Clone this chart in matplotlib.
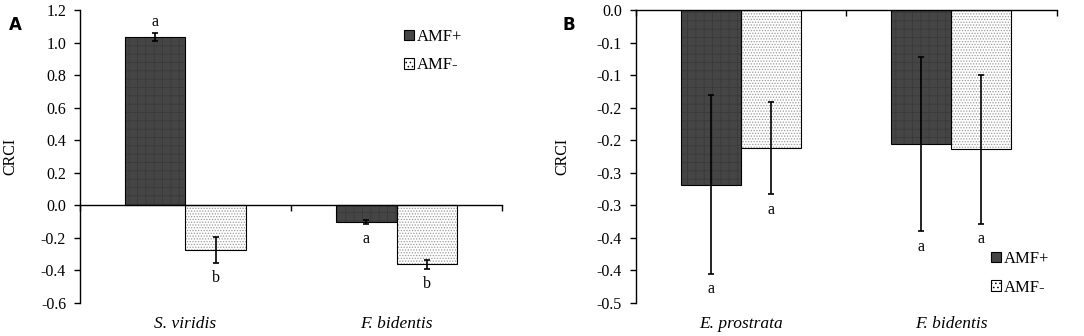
import numpy as np
import matplotlib
matplotlib.use("Agg")
import matplotlib.pyplot as plt
from matplotlib.patches import Patch
from matplotlib.transforms import blended_transform_factory

plt.rcParams['font.family'] = ['Liberation Serif', 'DejaVu Serif']
plt.rcParams['hatch.linewidth'] = 0.6

# --- data ---
groups = ["AMF+", "AMF-"]

cats_a = ["S. viridis", "F. bidentis"]
amf_plus_a = [1.035, -0.102]
amf_minus_a = [-0.274, -0.362]
err_plus_a = [0.025, 0.010]
err_minus_a = [0.078, 0.027]
letters_plus_a = ["a", "a"]
letters_minus_a = ["b", "b"]

cats_b = ["E. prostrata", "F. bidentis"]
amf_plus_b = [-0.268, -0.206]
amf_minus_b = [-0.212, -0.214]
err_plus_b = [0.137, 0.134]
err_minus_b = [0.071, 0.114]
letters_plus_b = ["a", "a"]
letters_minus_b = ["a", "a"]

yticks_a = [1.2, 1.0, 0.8, 0.6, 0.4, 0.2, 0.0, -0.2, -0.4, -0.6]
yticks_b = [0.0, -0.05, -0.1, -0.15, -0.2, -0.25, -0.3, -0.35, -0.4, -0.45]
yticklabels_b = ["0.0", "-0.1", "-0.1", "-0.2", "-0.2", "-0.3", "-0.3", "-0.4", "-0.4", "-0.5"]

DARK = "#454545"
DARK_HATCH = "#3a3a3a"
LIGHT = "#ffffff"
LIGHT_HATCH = "#9a9a9a"
W = 0.285


def draw_bars(ax, x, vals, errs, face, hcolor, hatch, letters):
    ax.bar(x, vals, W, color=face, edgecolor=hcolor, hatch=hatch, linewidth=0, zorder=2)
    ax.bar(x, vals, W, fill=False, edgecolor="black", linewidth=0.8, zorder=3)
    ax.errorbar(x, vals, yerr=errs, fmt="none", ecolor="black", elinewidth=1.2,
                capsize=2.3, capthick=1.2, zorder=4)
    for xi, v, e, lab in zip(x, vals, errs, letters):
        if v > 0:
            y, dy = v + e, 8
        else:
            y, dy = v - e, -11
        ax.annotate(lab, (xi, y), xytext=(0, dy), textcoords="offset points",
                    ha="center", va="center", fontsize=11.5)


def setup(ax, cats, yticks, ylabels, ylim):
    ax.set_xlim(-0.5, len(cats) - 0.5)
    ax.set_ylim(*ylim)
    for s in ["top", "right"]:
        ax.spines[s].set_visible(False)
    ax.spines["bottom"].set_position(("data", 0))
    ax.spines["bottom"].set_linewidth(1.0)
    ax.spines["left"].set_linewidth(1.0)
    ax.set_xticks(np.arange(-0.5, len(cats), 1.0))
    ax.set_xticklabels([])
    ax.tick_params(axis="x", direction="out", length=4, width=1.0)
    ax.set_yticks(yticks)
    ax.set_yticklabels(ylabels)
    ax.tick_params(axis="y", direction="out", length=4, width=1.0, labelsize=11.5, pad=6)
    trans = blended_transform_factory(ax.transData, ax.transAxes)
    for i, c in enumerate(cats):
        ax.text(i, -0.07, c, transform=trans, ha="center", va="center",
                fontsize=12.5, style="italic")
    ax.set_ylabel("CRCI", fontsize=11.5)


fig = plt.figure(figsize=(10.84, 3.36), dpi=100)

# panel A
ax1 = fig.add_axes([0.0738, 0.0982, 0.3893, 0.872])
xa = np.arange(len(cats_a))
draw_bars(ax1, xa - W / 2, amf_plus_a, err_plus_a, DARK, DARK_HATCH, "++", letters_plus_a)
draw_bars(ax1, xa + W / 2, amf_minus_a, err_minus_a, LIGHT, LIGHT_HATCH, "......", letters_minus_a)
setup(ax1, cats_a, yticks_a, [f"{t:.1f}" for t in yticks_a], (-0.6, 1.2))
ax1.yaxis.set_label_coords(-0.145, 0.5)

# panel B
ax2 = fig.add_axes([0.5864, 0.0982, 0.3884, 0.872])
xb = np.arange(len(cats_b))
draw_bars(ax2, xb - W / 2, amf_plus_b, err_plus_b, DARK, DARK_HATCH, "++", letters_plus_b)
draw_bars(ax2, xb + W / 2, amf_minus_b, err_minus_b, LIGHT, LIGHT_HATCH, "......", letters_minus_b)
setup(ax2, cats_b, yticks_b, yticklabels_b, (-0.45, 0.0))
ax2.yaxis.set_label_coords(-0.154, 0.5)

handles = [Patch(facecolor=DARK, edgecolor="black", linewidth=0.8),
           Patch(facecolor=LIGHT, edgecolor="black", linewidth=0.8, hatch="....")]
leg_kw = dict(frameon=False, fontsize=12, handlelength=0.6, handleheight=0.6,
              handletextpad=0.2, labelspacing=0.75, borderaxespad=0)
ax1.legend(handles, groups, loc="upper left", bbox_to_anchor=(0.751, 0.959), **leg_kw)
ax2.legend(handles, groups, loc="upper left", bbox_to_anchor=(0.828, 0.2), **leg_kw)

fig.text(0.008, 0.925, "A", fontsize=12, fontweight="bold", family="DejaVu Sans", va="center")
fig.text(0.519, 0.925, "B", fontsize=12, fontweight="bold", family="DejaVu Sans", va="center")

fig.savefig("out.png", dpi=100)
